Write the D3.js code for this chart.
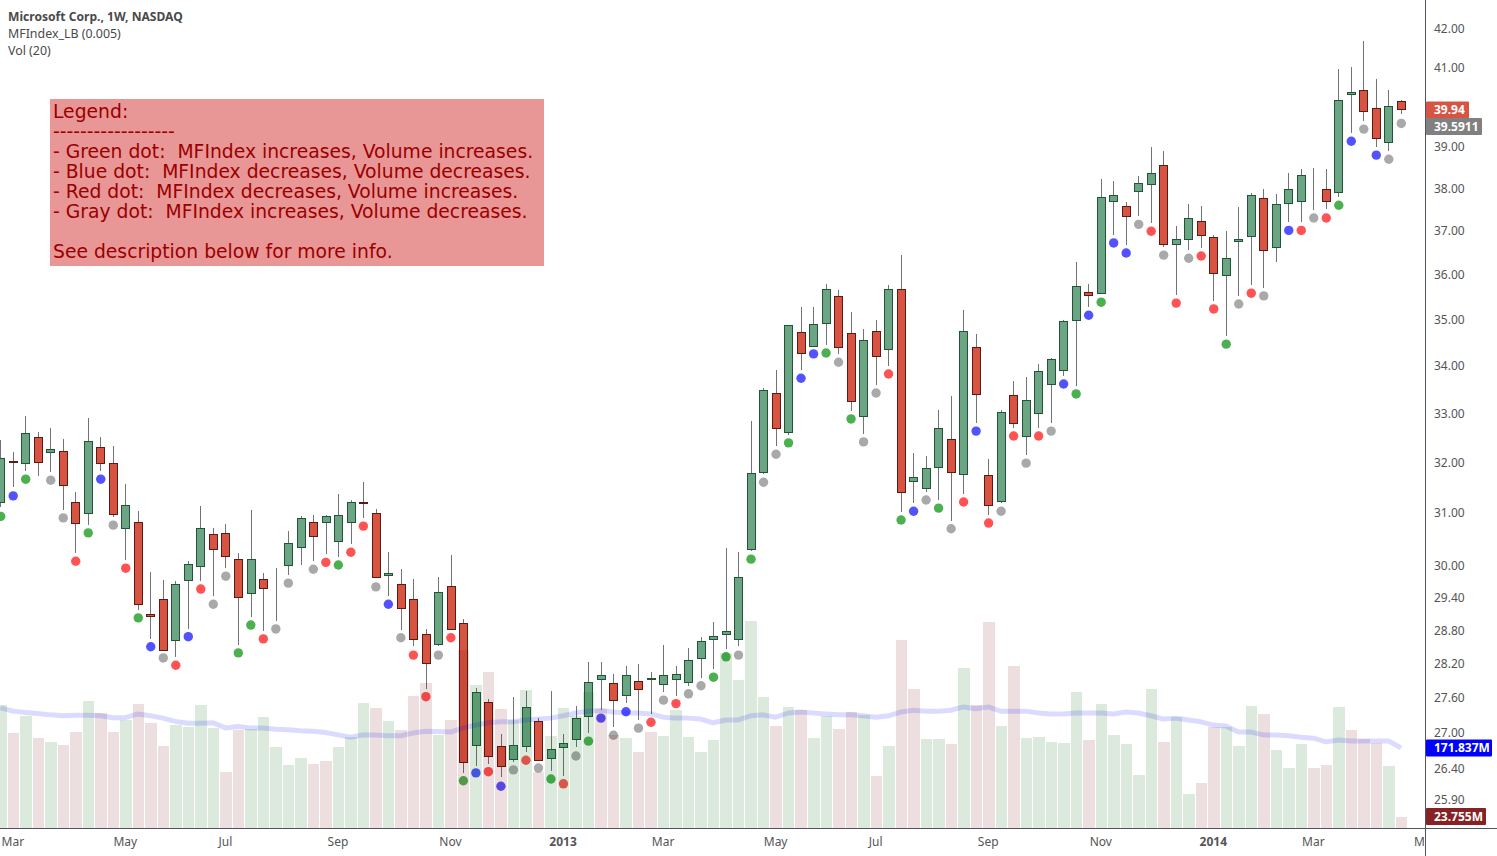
<!DOCTYPE html>
<html>
<head>
<meta charset="utf-8">
<title>Microsoft Corp., 1W, NASDAQ</title>
<script src="https://d3js.org/d3.v7.min.js"></script>
<style>
  html, body { margin: 0; padding: 0; background: #fff; }
  svg { display: block; }
  text { font-family: "Noto Sans", sans-serif; }
</style>
</head>
<body>
<svg id="chart" width="1497" height="856"></svg>
<script>
// Weekly prices, one entry per candle
var highs = [32.46,32.21,32.95,32.62,32.70,32.48,31.42,32.91,32.52,32.34,31.56,31.04,29.88,29.73,29.71,30.08,31.14,30.70,30.79,30.24,31.06,29.86,29.95,30.66,30.94,30.96,30.96,31.38,31.26,31.61,31.08,30.25,29.93,29.75,28.83,29.78,30.19,29.01,27.78,27.59,26.99,27.62,27.72,27.25,27.72,26.99,27.47,28.24,28.24,28.02,28.17,28.20,28.06,28.54,28.17,28.49,28.67,28.95,30.32,30.25,32.85,33.53,33.91,34.88,35.28,35.28,35.79,35.66,35.17,34.80,34.99,35.77,36.45,32.19,32.13,33.07,33.37,35.21,34.69,32.07,33.07,33.67,33.76,34.04,34.17,34.99,36.29,35.79,38.23,38.18,37.68,38.30,39.00,38.90,37.12,37.64,37.59,36.91,37.00,37.56,37.89,37.99,37.87,38.37,38.47,38.49,38.47,40.96,41.01,41.69,40.70,40.42,40.17];
var lows = [31.12,31.50,31.83,31.73,31.81,31.06,30.24,30.77,31.83,30.92,30.10,29.17,28.65,28.45,28.33,28.83,29.71,29.43,29.95,28.54,29.04,28.79,28.97,29.82,30.01,30.08,30.21,30.16,30.41,30.91,29.77,29.43,28.81,28.51,27.76,28.51,28.83,26.34,26.45,26.49,26.26,26.52,26.69,26.55,26.37,26.29,26.76,27.01,27.40,27.11,27.51,27.23,27.33,27.71,27.64,27.81,27.95,28.11,28.47,28.51,30.27,31.77,32.34,32.56,33.91,34.43,34.45,34.26,33.05,32.58,33.60,34.00,31.02,31.20,31.42,31.26,30.85,31.38,32.80,30.96,31.20,32.70,32.15,32.70,32.80,33.78,33.57,35.28,35.59,36.91,36.68,37.35,37.19,36.63,35.55,36.56,36.61,35.41,34.64,35.53,35.77,35.70,36.29,37.21,37.21,37.49,37.52,37.80,39.35,39.65,39.00,38.90,39.82];
var opens = [31.22,32.02,31.99,32.52,32.21,32.23,31.22,31.00,32.32,31.99,30.71,30.83,29.10,29.38,28.63,29.73,29.99,30.60,30.62,30.12,29.49,29.75,29.74,30.01,30.35,30.83,30.83,30.46,30.83,31.21,31.00,29.82,29.65,29.38,28.74,28.55,29.62,28.94,26.80,27.54,26.79,26.57,26.79,27.21,26.59,26.77,26.90,27.30,27.93,27.87,27.66,27.90,27.94,27.85,27.93,27.88,28.31,28.65,28.74,28.65,30.31,31.81,33.42,32.62,34.73,34.43,34.93,35.53,34.71,32.95,34.75,34.36,35.68,31.63,31.48,31.91,32.48,31.77,34.41,31.75,31.24,33.39,32.54,33.01,33.62,33.91,34.99,35.61,35.59,37.71,37.59,37.94,38.11,38.57,36.70,36.82,37.23,36.86,35.99,36.77,36.89,37.78,36.63,37.66,37.71,37.95,37.99,37.92,40.32,40.42,39.97,39.13,40.14];
var closes = [32.09,32.01,32.60,32.01,32.27,31.54,30.81,32.44,31.99,30.98,31.16,29.28,29.06,28.45,29.65,30.02,30.71,30.31,30.18,29.40,30.12,29.58,29.75,30.43,30.91,30.56,30.94,30.96,31.22,31.20,29.77,29.86,29.21,28.65,28.22,29.50,28.83,26.51,27.71,26.62,26.45,26.80,27.45,26.55,26.74,26.84,27.25,27.88,28.01,27.56,28.01,27.76,27.95,28.01,28.02,28.26,28.61,28.70,28.79,29.77,31.79,33.49,32.70,34.88,34.27,34.90,35.68,34.41,33.26,34.56,34.21,35.68,31.42,31.71,31.89,32.70,31.81,34.75,33.41,31.16,33.03,32.80,33.28,33.89,34.15,34.97,35.75,35.55,37.80,37.85,37.35,38.13,38.37,36.70,36.82,37.31,36.91,36.04,36.38,36.82,37.85,36.57,37.64,37.99,38.33,37.94,37.71,40.17,40.37,39.89,39.23,40.02,39.94];

// MFIndex_LB dots, level and kind (g, b, r, a = gray; null = no dot that week)
var dotLevels = [30.94,31.34,31.67,null,31.65,30.91,30.08,30.62,31.67,30.77,29.95,29.03,28.51,28.31,28.18,28.69,29.56,29.28,29.80,28.40,28.90,28.65,28.83,29.67,null,29.93,30.06,30.01,30.25,30.75,29.60,29.28,28.67,28.36,27.63,28.36,28.67,26.21,26.34,26.36,26.12,26.39,26.55,26.42,26.24,26.16,26.62,26.87,27.26,26.97,27.37,27.09,27.19,27.57,27.51,27.68,27.82,27.97,28.33,28.36,30.12,31.61,32.17,32.40,33.74,34.26,34.28,34.08,32.89,32.42,33.43,33.83,30.87,31.04,31.26,31.10,30.70,31.22,32.64,30.81,31.04,32.54,31.99,32.54,32.64,33.62,33.41,35.10,35.39,36.73,36.50,37.16,37.00,36.45,35.37,36.38,36.43,35.24,34.47,35.35,35.59,35.53,null,37.02,37.02,37.31,37.31,37.61,39.15,39.45,38.81,38.71,39.59];
var dotKinds = "g b g - a a r g b a r g b a r b r a a g g r a a - a r g r r a b a r r a r g b r b a r a g r a g b a b a r a r a a g g a g a a g b b g a g a a r g b a g a r b r a r a r a b g b g b b a r a r a r r g a r a - b r a r g b a b a a".split(" ");

// Volume in millions, the bar colour flag and the 20 week average
var volumes = [264,204,241,193,185,178,206,273,247,206,232,266,226,176,221,217,264,215,120,211,213,238,174,135,150,137,144,174,195,269,258,230,211,284,311,200,232,382,307,335,256,232,296,120,198,258,241,292,256,200,193,163,206,198,253,195,163,189,376,318,445,281,219,260,253,193,241,213,249,243,112,176,404,299,191,191,180,344,264,442,219,348,193,195,185,183,292,189,266,200,180,114,299,185,238,73,97,217,217,176,262,245,168,129,180,129,135,260,211,191,183,133,23.755];
var volumeKinds = "g p g p g p p g p p g p p p g g g g p p g g g g g p p g g g p g p p p g p p g p p g g p g g g g p p g p p g g g g g g g g g p g p g g p p g p g p p g g p g p p g p g g g g g p g g g g g p g g p p g g g p g g g p p g p p p g p".split(" ");
var volumeMA = [258,251,248,246,243,241,242,242,241,237,237,245,241,236,229,225,225,226,215,218,215,215,212,211,209,208,205,200,195,200,200,198,198,204,208,207,206,215,221,226,228,228,232,234,236,241,247,251,253,249,247,247,245,238,236,236,234,226,232,232,241,243,238,247,249,247,245,243,243,241,238,241,249,253,251,251,253,260,256,260,251,251,251,247,245,245,247,247,247,245,249,247,241,234,236,232,228,221,219,206,206,200,200,198,195,193,185,189,187,187,187,187,171.837];

// Axis labels
var priceTicks = [42,41,39,38,37,36,35,34,33,32,31,30,29.4,28.8,28.2,27.6,27,26.4,25.9];
var timeTickWeeks = [1,10,18,27,36,45,53,62,70,79,88,97,105,114];
var timeTickLabels = ["Mar","May","Jul","Sep","Nov","2013","Mar","May","Jul","Sep","Nov","2014","Mar","May"];

var legendLines = [
  "Legend:",
  "------------------",
  "- Green dot:  MFIndex increases, Volume increases.",
  "- Blue dot:  MFIndex decreases, Volume decreases.",
  "- Red dot:  MFIndex decreases, Volume increases.",
  "- Gray dot:  MFIndex increases, Volume decreases.",
  "",
  "See description below for more info."
];

var dotColors = { g: "#4caf50", b: "#5252ff", r: "#ff5252", a: "#a9a9a9" };

var svg = d3.select("#chart");
var plotRight = 1425, plotBottom = 828;

// Scales
var x = d3.scaleLinear().domain([0, 112]).range([0.4, 1401]);
var y = d3.scaleLog().domain([42.77, 25.44]).range([0, plotBottom]);
var v = d3.scaleLinear().domain([0, 444.6]).range([plotBottom, 621]);

svg.append("defs").append("clipPath").attr("id", "plot-clip")
  .append("rect").attr("width", plotRight).attr("height", 856);

var plot = svg.append("g").attr("clip-path", "url(#plot-clip)");
var weeks = d3.range(highs.length);

// Candles: wick first, body on top
var candles = plot.append("g").attr("shape-rendering", "crispEdges");
weeks.forEach(function(i) {
  var up = closes[i] >= opens[i];
  var cx = Math.round(x(i)) + 0.5;
  var top = Math.round(y(Math.max(opens[i], closes[i])));
  var bottom = Math.round(y(Math.min(opens[i], closes[i])));
  candles.append("line")
    .attr("x1", cx).attr("x2", cx)
    .attr("y1", y(highs[i])).attr("y2", y(lows[i]))
    .attr("stroke", "#737375");
  candles.append("rect")
    .attr("x", cx - 4).attr("width", 8)
    .attr("y", top + 0.5).attr("height", bottom - top)
    .attr("fill", up ? "#6ba583" : "#d75442")
    .attr("stroke", up ? "#225437" : "#5b1a13");
});

// Dots under each low
plot.append("g").selectAll("circle")
  .data(weeks.filter(function(i) { return dotLevels[i] !== null; }))
  .join("circle")
  .attr("cx", function(i) { return x(i) + 0.3; })
  .attr("cy", function(i) { return y(dotLevels[i]) + 0.3; })
  .attr("r", 4.7)
  .attr("fill", function(i) { return dotColors[dotKinds[i]]; });

// Volume goes over the candles, the colours are very transparent
plot.append("g").attr("shape-rendering", "crispEdges").selectAll("rect")
  .data(weeks)
  .join("rect")
  .attr("x", function(i) { return Math.round(x(i - 0.5)) + 1; })
  .attr("width", function(i) { return Math.round(x(i + 0.5)) - Math.round(x(i - 0.5)) - 1; })
  .attr("y", function(i) { return v(volumes[i]); })
  .attr("height", function(i) { return plotBottom - v(volumes[i]); })
  .attr("fill", function(i) { return volumeKinds[i] === "g" ? "#006a0e" : "#6f0000"; })
  .attr("fill-opacity", function(i) { return volumeKinds[i] === "g" ? 0.141 : 0.125; });

var maLine = d3.line()
  .x(function(d, i) { return x(i); })
  .y(function(d) { return v(d); });

plot.append("path")
  .attr("d", maLine(volumeMA))
  .attr("fill", "none")
  .attr("stroke", "#0000ff")
  .attr("stroke-opacity", 0.14)
  .attr("stroke-width", 5)
  .attr("stroke-linejoin", "round");

// Frame
svg.append("line").attr("x1", 0).attr("x2", 1497).attr("y1", plotBottom + 0.5).attr("y2", plotBottom + 0.5)
  .attr("stroke", "#50535e");
svg.append("line").attr("x1", plotRight + 0.5).attr("x2", plotRight + 0.5).attr("y1", 0).attr("y2", 856)
  .attr("stroke", "#50535e");

// Price axis
var priceAxis = d3.axisRight(y)
  .tickValues(priceTicks)
  .tickFormat(d3.format(".2f"))
  .tickSize(0)
  .tickPadding(9);
var priceG = svg.append("g").attr("transform", "translate(" + plotRight + ",0)").call(priceAxis);
priceG.select(".domain").remove();
priceG.selectAll("text").attr("font-size", 12).attr("fill", "#555").style("font-family", '"Noto Sans", sans-serif');

// Time axis
var labelByWeek = d3.scaleOrdinal().domain(timeTickWeeks).range(timeTickLabels);
var timeAxis = d3.axisBottom(x)
  .tickValues(timeTickWeeks)
  .tickFormat(function(d) { return labelByWeek(d); })
  .tickSize(0)
  .tickPadding(9);
var timeG = svg.append("g")
  .attr("transform", "translate(-0.6," + plotBottom + ")")
  .attr("clip-path", "url(#plot-clip)")
  .call(timeAxis);
timeG.select(".domain").remove();
timeG.selectAll("text")
  .attr("font-size", 12)
  .attr("fill", "#555")
  .style("font-family", '"Noto Sans", sans-serif')
  .attr("font-weight", function(d, i) { return /^\d/.test(timeTickLabels[i]) ? "bold" : "normal"; });

// Last value tags on the axis
function valueTag(text, fill, yMid, width) {
  var g = svg.append("g").attr("transform", "translate(" + (plotRight + 1) + "," + yMid + ")");
  g.append("rect").attr("y", -8.5).attr("width", width).attr("height", 17).attr("rx", 1).attr("fill", fill);
  g.append("text").attr("x", 8).attr("dy", "0.35em").attr("font-size", 12).attr("font-weight", "bold")
    .attr("fill", "#fff").text(text);
}
valueTag("39.94", "#d75442", y(closes[112]) + 1, 43);
valueTag("39.5911", "#808080", 126.5, 56);
valueTag("171.837M", "#0000ff", v(volumeMA[112]), 66);
valueTag("23.755M", "#862223", v(volumes[112]) - 0.5, 60);

// Title block
var titles = [["Microsoft Corp., 1W, NASDAQ", "bold", 12.1], ["MFIndex_LB (0.005)", "normal", 12.4], ["Vol (20)", "normal", 12.4]];
svg.append("g").selectAll("text").data(titles).join("text")
  .attr("x", 8)
  .attr("y", function(d, i) { return 21 + i * 17; })
  .attr("font-size", function(d) { return d[2]; })
  .attr("font-weight", function(d) { return d[1]; })
  .attr("fill", "#4a4a4a")
  .text(function(d) { return d[0]; });

// Legend box, one text block with a tspan per line
var legend = svg.append("g");
legend.append("rect").attr("x", 50).attr("y", 99).attr("width", 494).attr("height", 167).attr("fill", "#e99696");
legend.append("text")
  .attr("font-size", 18.75)
  .attr("fill", "#990000")
  .attr("xml:space", "preserve")
  .style("white-space", "pre")
  .style("font-family", '"DejaVu Sans", sans-serif')
  .selectAll("tspan").data(legendLines).join("tspan")
  .attr("x", 53)
  .attr("y", function(d, i) { return 118 + i * 20; })
  .text(function(d) { return d; });
</script>
</body>
</html>
